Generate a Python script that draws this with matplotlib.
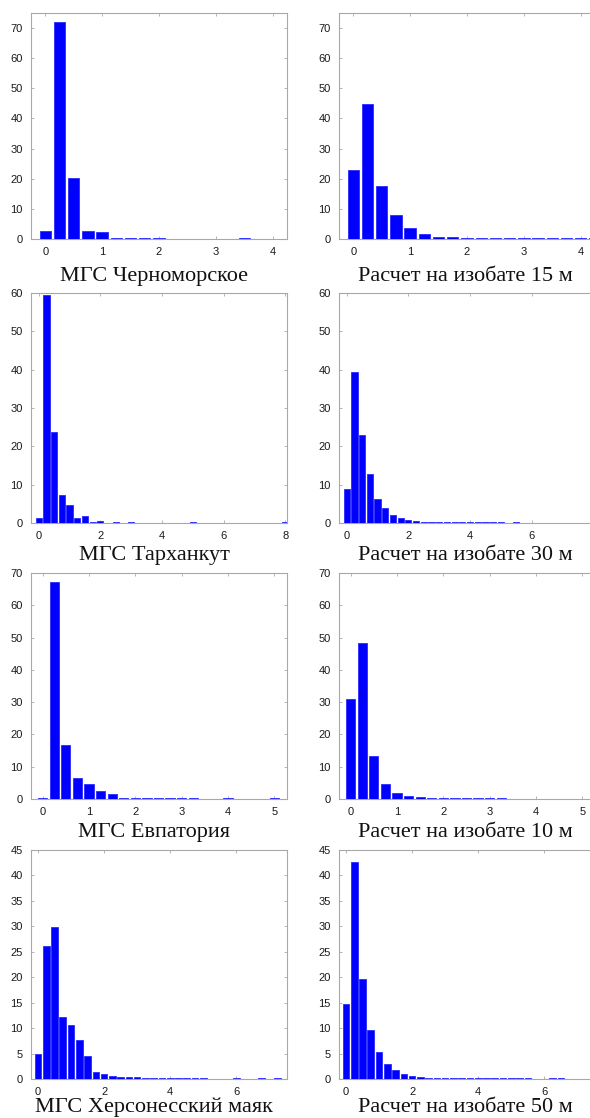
import numpy as np
import matplotlib
matplotlib.use("Agg")
import matplotlib.pyplot as plt

matplotlib.rcParams.update({"font.family": ["Liberation Sans", "DejaVu Sans"], "font.size": 8})

W, H = 590, 1118
BIN = 0.25  # histogram bin width (m)

# bar heights per bin, bins centred on 0, 0.25, 0.5, ...
chern   = [2.7, 72.0, 20.3, 2.7, 2.4, 0.2, 0.2, 0.2, 0.2, 0, 0, 0, 0, 0, 0.2]
iso15   = [22.8, 44.7, 17.7, 7.8, 3.5, 1.7, 0.8, 0.5, 0.2, 0.2, 0.2, 0.2, 0.2, 0.2, 0.2, 0.2, 0.2, 0.2]
tarkh   = [1.4, 59.5, 23.8, 7.3, 4.6, 1.4, 1.7, 0.3, 0.5, 0, 0.3, 0, 0.3, 0, 0, 0, 0, 0, 0, 0,
           0.3, 0, 0, 0, 0, 0, 0, 0, 0, 0, 0, 0, 0.3]
iso30   = [9.0, 39.3, 23.0, 12.7, 6.3, 3.8, 2.1, 1.4, 0.9, 0.6, 0.35, 0.15, 0.15, 0.15, 0.15,
           0.15, 0.15, 0.15, 0.15, 0.15, 0.15, 0, 0.15]
evpat   = [0.2, 67.3, 16.8, 6.5, 4.8, 2.5, 1.6, 0.2, 0.4, 0.2, 0.2, 0.2, 0.2, 0.2, 0, 0, 0.2,
           0, 0, 0, 0.2]
iso10   = [30.9, 48.3, 13.2, 4.6, 2.0, 0.9, 0.5, 0.2, 0.2, 0.2, 0.2, 0.2, 0.2, 0.2]
chers   = [5.0, 26.1, 29.9, 12.2, 10.6, 7.6, 4.5, 1.4, 1.0, 0.5, 0.3, 0.3, 0.3, 0.15, 0.15,
           0.15, 0.15, 0.15, 0.15, 0.15, 0.15, 0, 0, 0, 0.15, 0, 0, 0.15, 0, 0.15]
iso50   = [14.8, 42.6, 19.6, 9.7, 5.4, 3.0, 1.7, 1.0, 0.6, 0.4, 0.25, 0.25, 0.15, 0.15, 0.15,
           0.15, 0.15, 0.15, 0.15, 0.15, 0.15, 0.15, 0.15, 0, 0, 0.15, 0.15]

labels = ["МГС Черноморское", "Расчет на изобате 15 м",
          "МГС Тарханкут", "Расчет на изобате 30 м",
          "МГС Евпатория", "Расчет на изобате 10 м",
          "МГС Херсонесский маяк", "Расчет на изобате 50 м"]
series = [chern, iso15, tarkh, iso30, evpat, iso10, chers, iso50]

# per row: xlim, x ticks, ylim, y ticks
ROWS = [
    ((-0.25, 4.25), [0, 1, 2, 3, 4], (0, 75), range(0, 71, 10)),
    ((-0.25, 8.05), [0, 2, 4, 6, 8], (0, 60), range(0, 61, 10)),
    ((-0.25, 5.27), [0, 1, 2, 3, 4, 5], (0, 70), range(0, 71, 10)),
    ((-0.21, 7.53), [0, 2, 4, 6], (0, 45), range(0, 46, 5)),
]
ROW_TOP = [13, 293, 573, 850]
ROW_BOT = [239, 523, 799, 1079]
LBL_Y = [281, 560, 837, 1112]
COL_X = [31, 339]
COL_LBL_X = [154, 465]
AX_W = 256

fig = plt.figure(figsize=(W / 100, H / 100), dpi=100)
grey = "#a8a8a8"
for i, (vals, lab) in enumerate(zip(series, labels)):
    r, c = divmod(i, 2)
    xl, xt, yl, yt = ROWS[r]
    ax = fig.add_axes([COL_X[c] / W, 1 - ROW_BOT[r] / H, AX_W / W, (ROW_BOT[r] - ROW_TOP[r]) / H])
    x = np.arange(len(vals)) * BIN
    ax.bar(x, vals, width=BIN * 0.8, color="#0000ff", edgecolor="#2a2aff", linewidth=0.6, zorder=3)
    ax.set_xlim(*xl); ax.set_ylim(*yl)
    # the right column runs past the figure edge: keep only ticks that land inside it
    px = [COL_X[c] + (t - xl[0]) / (xl[1] - xl[0]) * AX_W for t in xt]
    ax.set_xticks([t for t, p in zip(xt, px) if p < W - 4])
    ax.set_yticks(list(yt))
    ax.tick_params(direction="in", length=2.5, width=0.6, color=grey, labelcolor="#1a1a1a",
                   top=True, right=True, pad=6)
    for sp in ax.spines.values():
        sp.set_color(grey); sp.set_linewidth(0.8)
    fig.text(COL_LBL_X[c] / W, 1 - LBL_Y[r] / H, lab, ha="center", va="baseline",
             fontsize=16, family=["Liberation Serif", "DejaVu Serif"], color="#111")

fig.savefig("out.png", dpi=100, facecolor="white")
